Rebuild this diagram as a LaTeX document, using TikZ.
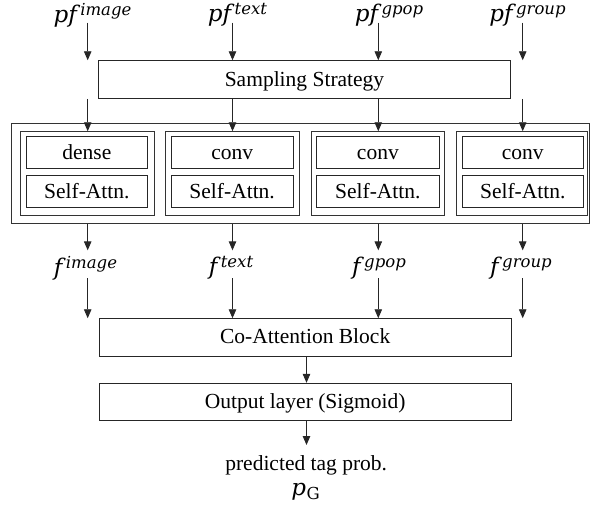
\documentclass[tikz,border=0pt]{standalone}
\usepackage{fontspec}
\setmainfont{Liberation Serif}
\newfontfamily\mfont{DejaVu Serif}
\usetikzlibrary{arrows.meta}
\newcommand{\vlbl}[2]{{\fontsize{23}{25}\selectfont\mfont\itshape #1}\kern3.5pt\raisebox{6.8pt}{\fontsize{16.5}{16}\selectfont\mfont\itshape #2}}
\begin{document}
\begin{tikzpicture}[x=1pt,y=-1pt,
  box/.style={draw=black!85, line width=0.9pt, inner sep=0pt, text height=16pt, text depth=3pt, font=\fontsize{21.5}{24}\selectfont},
  frame/.style={draw=black!80, line width=0.9pt, inner sep=0pt},
  arr/.style={draw=black!85, line width=0.9pt, -{Triangle[length=9pt,width=7.5pt]}},
  lab/.style={inner sep=0pt},
  txt/.style={inner sep=0pt, font=\fontsize{21.5}{24}\selectfont}]
\useasboundingbox (0,0) rectangle (592,509);
% top labels
\node[lab] (l1) at (92.5,15) {\vlbl{pf}{image}};
\node[lab] (l2) at (237.5,15) {\vlbl{pf}{text}};
\node[lab] (l3) at (389,15) {\vlbl{pf}{gpop}};
\node[lab] (l4) at (527.5,15) {\vlbl{pf}{group}};
\coordinate (t1) at (87.7,22.7);
\coordinate (t2) at (232.5,22.7);
\coordinate (t3) at (378.3,22.7);
\coordinate (t4) at (522.7,22.7);
% sampling
\node[box, minimum width=412.4pt, minimum height=37.6pt] (samp) at (304.5,79.5) {Sampling Strategy};
% outer frame
\node[frame, minimum width=578pt, minimum height=100.7pt] (outer) at (300.5,173.35) {};
% columns
\node[frame, minimum width=133.3pt, minimum height=84pt] (c1) at (87.35,173.7) {};
\node[frame, minimum width=133.3pt, minimum height=84pt] (c2) at (232.35,173.7) {};
\node[frame, minimum width=133.3pt, minimum height=84pt] (c3) at (377.65,173.7) {};
\node[frame, minimum width=131pt, minimum height=84pt] (c4) at (521.5,173.7) {};
\node[box, minimum width=121.7pt, minimum height=31.6pt] (d1) at (86.85,152.5) {dense};
\node[box, minimum width=122.3pt, minimum height=31.6pt] (d2) at (232.15,152.5) {conv};
\node[box, minimum width=122.3pt, minimum height=31.6pt] (d3) at (377.85,152.5) {conv};
\node[box, minimum width=121pt, minimum height=31.6pt] (d4) at (522.8,152.5) {conv};
\node[box, minimum width=121.7pt, minimum height=31.6pt] (s1) at (86.85,191.5) {Self-Attn.};
\node[box, minimum width=122.3pt, minimum height=31.6pt] (s2) at (232.15,191.5) {Self-Attn.};
\node[box, minimum width=122.3pt, minimum height=31.6pt] (s3) at (377.85,191.5) {Self-Attn.};
\node[box, minimum width=121pt, minimum height=31.6pt] (s4) at (522.8,191.5) {Self-Attn.};
% f labels
\node[lab] (f1) at (85.5,268) {\vlbl{f}{image}};
\node[lab] (f2) at (231,268) {\vlbl{f}{text}};
\node[lab] (f3) at (379,268) {\vlbl{f}{gpop}};
\node[lab] (f4) at (521,268) {\vlbl{f}{group}};
\coordinate (m1) at (87.7,250.3);
\coordinate (m2) at (232.5,250.3);
\coordinate (m3) at (378.3,250.3);
\coordinate (m4) at (522.7,250.3);
\coordinate (n1) at (87.7,278);
\coordinate (n2) at (232.5,278);
\coordinate (n3) at (378.3,278);
\coordinate (n4) at (522.7,278);
% co-attention, output
\node[box, minimum width=411.7pt, minimum height=37.3pt] (coatt) at (305.15,337.35) {Co-Attention Block};
\node[box, minimum width=411.7pt, minimum height=36.7pt] (outl) at (305.15,401.65) {Output layer (Sigmoid)};
\coordinate (pend) at (306.5,445);
\node[txt] (pred) at (306.2,465) {predicted tag prob.};
\node[lab] (pg) at (305.5,492) {{\fontsize{23}{25}\selectfont\mfont\itshape p}\kern0.5pt\raisebox{-4pt}{\fontsize{16.5}{16}\selectfont\mfont G}};
% arrows
\foreach \i in {1,2,3,4}{
  \draw[arr] (t\i) -- (samp.north -| t\i);
  \draw[arr] (samp.south -| t\i) -- (c\i.north -| t\i);
  \draw[arr] (outer.south -| t\i) -- (m\i);
  \draw[arr] (n\i) -- (coatt.north -| n\i);
}
\draw[arr] (coatt.south -| pend) -- (outl.north -| pend);
\draw[arr] (outl.south -| pend) -- (pend);
\end{tikzpicture}
\end{document}
